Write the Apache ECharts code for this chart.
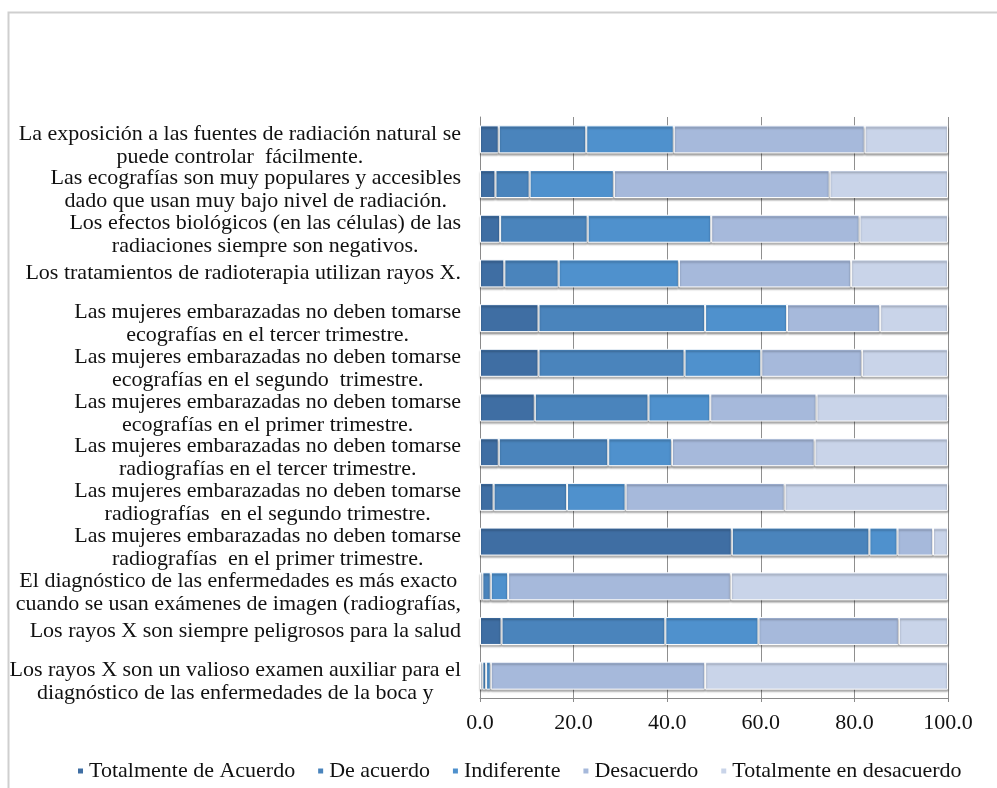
<!DOCTYPE html>
<html><head><meta charset="utf-8">
<script src="https://cdn.jsdelivr.net/npm/echarts@6/dist/echarts.min.js"></script>
<style>html,body{margin:0;padding:0;background:#fff}#c{width:997px;height:788px}</style>
</head><body><div id="c"></div>
<script>
const categories = [
  "La exposición a las fuentes de radiación natural se\npuede controlar  fácilmente.",
  "Las ecografías son muy populares y accesibles\ndado que usan muy bajo nivel de radiación.",
  "Los efectos biológicos (en las células) de las\nradiaciones siempre son negativos.",
  "Los tratamientos de radioterapia utilizan rayos X.",
  "Las mujeres embarazadas no deben tomarse\necografías en el tercer trimestre.",
  "Las mujeres embarazadas no deben tomarse\necografías en el segundo  trimestre.",
  "Las mujeres embarazadas no deben tomarse\necografías en el primer trimestre.",
  "Las mujeres embarazadas no deben tomarse\nradiografías en el tercer trimestre.",
  "Las mujeres embarazadas no deben tomarse\nradiografías  en el segundo trimestre.",
  "Las mujeres embarazadas no deben tomarse\nradiografías  en el primer trimestre.",
  "El diagnóstico de las enfermedades es más exacto\ncuando se usan exámenes de imagen (radiografías,",
  "Los rayos X son siempre peligrosos para la salud",
  "Los rayos X son un valioso examen auxiliar para el\ndiagnóstico de las enfermedades de la boca y"
];
const seriesNames = ["Totalmente de Acuerdo", "De acuerdo", "Indiferente", "Desacuerdo", "Totalmente en desacuerdo"];
const totAcuerdo    = [4.0, 3.3, 4.3, 5.2, 12.5, 12.5, 11.7, 4.0, 2.9, 53.8, 0.5, 4.6, 0.5];
const deAcuerdo     = [18.7, 7.3, 18.7, 11.6, 35.6, 31.2, 24.3, 23.4, 15.7, 29.4, 1.8, 35.0, 0.8];
const indiferente   = [18.7, 18.0, 26.4, 25.7, 17.5, 16.4, 13.2, 13.6, 12.5, 6.0, 3.7, 19.9, 1.0];
const desacuerdo    = [40.8, 46.1, 31.7, 36.8, 19.9, 21.5, 22.7, 30.5, 34.0, 7.6, 47.6, 30.0, 45.8];
const totDesacuerdo = [17.8, 25.3, 18.9, 20.7, 14.5, 18.4, 28.1, 28.5, 34.9, 3.2, 46.4, 10.5, 51.9];
const xTicks = [0, 20, 40, 60, 80, 100];

const colors = ["#3f6ea3", "#4a84bc", "#4f91cd", "#a6b9db", "#c9d4e9"];
const values = [totAcuerdo, deAcuerdo, indiferente, desacuerdo, totDesacuerdo];
const font = "'Liberation Serif', 'Times New Roman', serif";

const chart = echarts.init(document.getElementById('c'), null, {renderer: 'canvas'});
chart.setOption({
  animation: false,
  color: colors,
  graphic: [{
    type: 'rect', left: 6, top: 10, silent: true,
    shape: {x: 0, y: 0, width: 1000, height: 800},
    style: {fill: 'none', stroke: '#cfcfcf', lineWidth: 2}
  }],
  grid: {left: 480, right: 49, top: 117, bottom: 90, containLabel: false},
  legend: {
    left: 71, top: 755, itemWidth: 7, itemHeight: 7, itemGap: 21,
    icon: 'rect',
    textStyle: {fontFamily: font, fontSize: 22, color: '#111'},
    data: seriesNames
  },
  xAxis: {
    type: 'value', min: 0, max: 100, interval: 20,
    axisLine: {show: true, lineStyle: {color: '#8a8a8a', width: 1}},
    axisTick: {show: true, length: 4, lineStyle: {color: '#8a8a8a'}},
    splitLine: {show: true, lineStyle: {color: '#8f8f8f', width: 1}},
    axisLabel: {
      margin: 14, fontFamily: font, fontSize: 22, color: '#111',
      formatter: v => xTicks.includes(v) ? v.toFixed(1) : ''
    }
  },
  yAxis: {
    type: 'category', inverse: true, data: categories,
    axisLine: {show: true, lineStyle: {color: '#8a8a8a'}},
    axisTick: {show: false},
    axisLabel: {
      interval: 0,
      margin: 19, color: '#111', fontFamily: font, fontSize: 22,
      align: 'right', verticalAlign: 'middle',
      formatter: function (v) {
        const lines = v.split('\n');
        const body = lines.map(l => '{c|' + l + '}').join('\n');
        return lines.length > 1 ? '{s|}\n' + body : body;
      },
      rich: {
        c: {align: 'center', fontFamily: font, fontSize: 22, lineHeight: 23, color: '#111'},
        s: {lineHeight: 12, fontSize: 1, height: 12}
      }
    }
  },
  series: seriesNames.map((n, i) => ({
    name: n, type: 'bar', stack: 'total', barWidth: 28,
    data: values[i],
    itemStyle: {
      color: colors[i], borderColor: '#ffffff', borderWidth: 1,
      shadowColor: 'rgba(0,0,0,0.35)', shadowBlur: 2, shadowOffsetY: 2
    }
  }))
});
</script></body></html>
